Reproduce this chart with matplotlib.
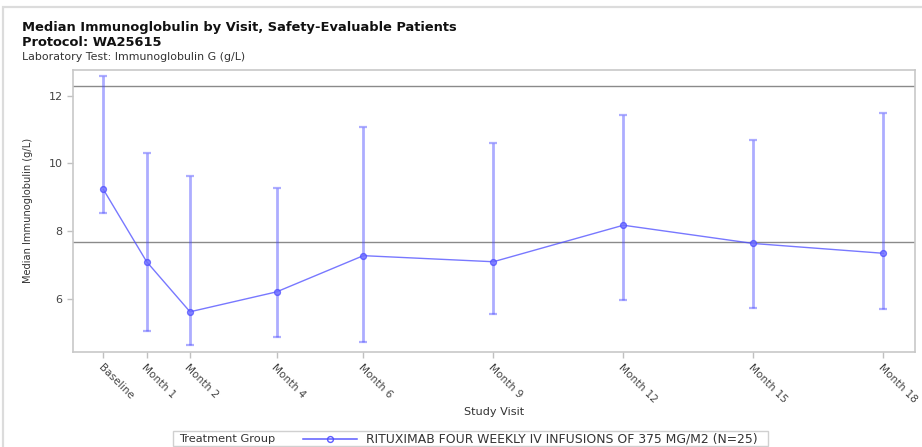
import matplotlib
matplotlib.use("Agg")
import matplotlib.pyplot as plt
from matplotlib.patches import Rectangle
from matplotlib.lines import Line2D
import numpy as np

plt.rcParams['font.family'] = ['DejaVu Sans']

# Visits (study month) and their labels
visit_labels = ["Baseline", "Month 1", "Month 2", "Month 4", "Month 6",
                "Month 9", "Month 12", "Month 15", "Month 18"]
visit_month = [0, 1, 2, 4, 6, 9, 12, 15, 18]

# Median immunoglobulin G (g/L) with lower/upper range
median_igg = [9.23, 7.09, 5.61, 6.20, 7.27, 7.09, 8.17, 7.63, 7.34]
lower_igg = [8.54, 5.05, 4.62, 4.85, 4.72, 5.54, 5.96, 5.71, 5.69]
upper_igg = [12.58, 10.30, 9.63, 9.26, 11.08, 10.59, 11.43, 10.69, 11.48]

# Normal range reference limits (g/L)
ref_limits = [7.68, 12.29]

y_ticks = [6, 8, 10, 12]
series_label = "RITUXIMAB FOUR WEEKLY IV INFUSIONS OF 375 MG/M2 (N=25)"

W, H = 922, 447
fig = plt.figure(figsize=(W / 100, H / 100), dpi=100)

# page frame
fig.patches.append(Rectangle((3 / W, -0.05), 1.1, 1 - 7 / H + 0.05,
                             transform=fig.transFigure, fill=False,
                             edgecolor="#dcdcdc", lw=1.6))

fig.text(22 / W, 1 - 27 / H, "Median Immunoglobulin by Visit, Safety-Evaluable Patients",
         fontsize=9.4, fontweight="bold", va="center", ha="left", color="#111111")
fig.text(22 / W, 1 - 42 / H, "Protocol: WA25615",
         fontsize=9.4, fontweight="bold", va="center", ha="left", color="#111111")
fig.text(22 / W, 1 - 57 / H, "Laboratory Test: Immunoglobulin G (g/L)",
         fontsize=7.9, va="center", ha="left", color="#333333")

ax = fig.add_axes([73 / W, 1 - 351.7 / H, (915 - 73) / W, (351.7 - 70) / H])

blue = "#4b4bff"
x = np.array(visit_month, dtype=float)
med = np.array(median_igg)
yerr = np.vstack([med - np.array(lower_igg), np.array(upper_igg) - med])

for r in ref_limits:
    ax.axhline(r, color="#8a8a8a", lw=1.0, zorder=1)

ax.errorbar(x, med, yerr=yerr, fmt="none", ecolor=blue, elinewidth=2.0,
            capsize=3.0, capthick=1.6, alpha=0.45, zorder=2)
ax.plot(x, med, color=blue, lw=1.0, alpha=0.75, marker="o", ms=4.2,
        mfc=(0.45, 0.45, 1.0, 0.45), mec=blue, mew=1.0, zorder=3)

ax.set_xlim(-0.70, 18.73)
ax.set_ylim(4.43, 12.76)
ax.set_yticks(y_ticks)
ax.set_yticklabels([str(v) for v in y_ticks])
ax.set_xticks(visit_month)
ax.set_xticklabels(visit_labels, rotation=-45, ha="left", va="top",
                   rotation_mode="anchor")

for s in ax.spines.values():
    s.set_color("#c8c8c8")
    s.set_linewidth(1.2)
ax.tick_params(axis="both", colors="#c0c0c0", length=4, width=1,
               labelcolor="#444444", labelsize=8)
ax.tick_params(axis="x", labelsize=7.6, pad=4)

ax.set_ylabel("Median Immunoglobulin (g/L)", fontsize=7.1, color="#333333")
ax.yaxis.set_label_coords(-45 / (915 - 73), 0.5)
ax.yaxis.label.set_va("center")
ax.set_xlabel("Study Visit", fontsize=8.1, color="#333333")
ax.xaxis.set_label_coords(0.5, -(412 - 351.7) / (351.7 - 70))
ax.xaxis.label.set_va("center")

# legend panel
fig.patches.append(Rectangle((173 / W, 1 - 446 / H), (768 - 173) / W, 15 / H,
                             transform=fig.transFigure, fill=False,
                             edgecolor="#d0d0d0", lw=1.0))
fig.text(179 / W, 1 - 438.5 / H, "Treatment Group", fontsize=8.2,
         va="center", ha="left", color="#333333")
fig.lines.append(Line2D([303 / W, 357 / W], [1 - 438.5 / H] * 2,
                        transform=fig.transFigure, color=blue, lw=1.1,
                        alpha=0.9))
fig.lines.append(Line2D([330 / W], [1 - 438.5 / H], transform=fig.transFigure,
                        marker="o", ms=4.2, mfc="none", mec=blue, mew=1.0,
                        alpha=0.9))
fig.text(366 / W, 1 - 438.5 / H, series_label, fontsize=8.9,
         va="center", ha="left", color="#333333")

fig.savefig("out.png", dpi=100)
